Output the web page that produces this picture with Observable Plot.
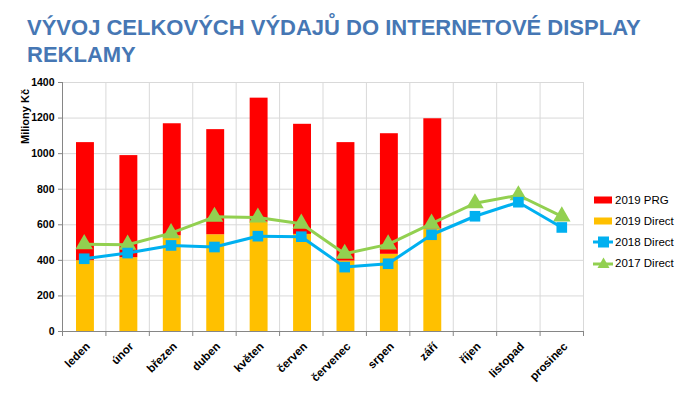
<!DOCTYPE html>
<html>
<head>
<meta charset="utf-8">
<script src="https://cdn.jsdelivr.net/npm/d3@7"></script>
<script src="https://cdn.jsdelivr.net/npm/@observablehq/plot@0.6"></script>
<style>
  html, body { margin: 0; padding: 0; background: #fff; }
  #wrap { position: relative; width: 700px; height: 395px; font-family: "Liberation Sans", Arial, sans-serif; }
  #title { position: absolute; left: 27px; top: 14px; font-size: 22px; font-weight: bold; color: #4677b4; line-height: 27px; width: 640px; }
  #legend { position: absolute; left: 593px; top: 189px; font-size: 11.5px; color: #000; }
  .row { height: 21px; display: flex; align-items: center; }
  .row svg { margin-right: 2px; }
  #chart { position: absolute; left: 0; top: 0; }
</style>
</head>
<body>
<div id="wrap">
  <div id="chart"></div>
  <div id="title">VÝVOJ CELKOVÝCH VÝDAJŮ DO INTERNETOVÉ DISPLAY REKLAMY</div>
  <div id="legend"></div>
</div>
<script>
const months = ["leden","únor","březen","duben","květen","červen","červenec","srpen","září","říjen","listopad","prosinec"];
const direct2019 = [398, 415, 538, 544, 615, 546, 396, 434, 576, null, null, null];
const prg2019   = [664, 574, 630, 591, 697, 619, 666, 678, 620, null, null, null];
const direct2018 = [409, 441, 484, 475, 536, 533, 362, 381, 544, 648, 727, 585];
const direct2017 = [491, 488, 553, 645, 641, 606, 437, 490, 606, 721, 766, 647];
const yTicks = [0, 200, 400, 600, 800, 1000, 1200, 1400];

const colors = {prg: "#ff0000", d19: "#ffc000", d18: "#00b0f0", d17: "#92d050"};

const bars = [];
months.forEach((m, i) => {
  if (direct2019[i] != null) bars.push({month: m, series: "2019 Direct", value: direct2019[i]});
  if (prg2019[i] != null) bars.push({month: m, series: "2019 PRG", value: prg2019[i]});
});
const l18 = months.map((m, i) => ({month: m, value: direct2018[i]}));
const l17 = months.map((m, i) => ({month: m, value: direct2017[i]}));

const W = 700, H = 395, mL = 62, mR = 117, mT = 82, mB = 64;
const step = (W - mL - mR) / months.length;

const chart = Plot.plot({
  width: W, height: H,
  marginLeft: mL, marginRight: mR, marginTop: mT, marginBottom: mB,
  style: {fontFamily: "'Liberation Sans', Arial, sans-serif", background: "transparent", overflow: "visible"},
  x: {type: "band", domain: months, padding: 0, round: false, axis: null},
  y: {domain: [0, 1400], axis: null},
  marks: [
    // horizontal grid
    Plot.ruleY(yTicks, {stroke: "#d9d9d9", strokeWidth: 1}),
    // vertical grid at band boundaries
    Plot.ruleX(months, {x: d => d, dx: -step / 2, y1: 0, y2: 1400, stroke: "#d9d9d9"}),
    Plot.ruleX([months[months.length - 1]], {x: d => d, dx: step / 2, y1: 0, y2: 1400, stroke: "#d9d9d9"}),
    // bars
    Plot.barY(bars, Plot.stackY({x: "month", y: "value", fill: d => d.series === "2019 PRG" ? colors.prg : colors.d19, order: ["2019 Direct", "2019 PRG"], z: "series", insetLeft: 14, insetRight: 11.5})),
    // axes lines
    Plot.ruleY([0], {stroke: "#868686"}),
    Plot.ruleX([months[0]], {x: d => d, dx: -step / 2, y1: 0, y2: 1400, stroke: "#868686"}),
    // x tick stubs
    Plot.ruleX(months, {x: d => d, dx: -step / 2, y1: 0, y2: 0, insetBottom: -5, stroke: "#868686"}),
    Plot.ruleX([months[months.length - 1]], {x: d => d, dx: step / 2, y1: 0, y2: 0, insetBottom: -5, stroke: "#868686"}),
    // y axis ticks & labels
    Plot.axisY(yTicks, {tickSize: 4, tickPadding: 4, tickFormat: d => String(d), stroke: "#868686", fill: "#000", fontWeight: "bold", fontSize: 10.5, label: null, strokeOpacity: 1}),
    // lines
    Plot.line(l17, {x: "month", y: "value", stroke: colors.d17, strokeWidth: 3}),
    Plot.dot(l17, {x: "month", y: "value", symbol: "triangle", r: 6.5, fill: colors.d17, stroke: null}),
    Plot.line(l18, {x: "month", y: "value", stroke: colors.d18, strokeWidth: 3}),
    Plot.dot(l18, {x: "month", y: "value", symbol: "square", r: 6, fill: colors.d18, stroke: null}),
    // x labels
    Plot.text(months, {x: d => d, y: 0, dy: 13, dx: 4, rotate: -45, textAnchor: "end", lineAnchor: "middle", text: d => d, fontWeight: "bold", fontSize: 11.5, fill: "#000"}),
    // y label
    Plot.text(["Miliony Kč"], {frameAnchor: "top-left", dx: -mL + 21, dy: -mT + 116, rotate: -90, text: d => d, fontWeight: "bold", fontSize: 11, fill: "#000", textAnchor: "middle"})
  ]
});
document.getElementById("chart").appendChild(chart);

// legend
const legendItems = [
  {label: "2019 PRG", type: "rect", color: colors.prg},
  {label: "2019 Direct", type: "rect", color: colors.d19},
  {label: "2018 Direct", type: "square", color: colors.d18},
  {label: "2017 Direct", type: "triangle", color: colors.d17}
];
const leg = document.getElementById("legend");
legendItems.forEach(it => {
  const row = document.createElement("div");
  row.className = "row";
  let sw;
  if (it.type === "rect") {
    sw = `<svg width="20" height="12"><rect x="1" y="2.5" width="18" height="7" fill="${it.color}"/></svg>`;
  } else if (it.type === "square") {
    sw = `<svg width="20" height="12"><line x1="0" x2="20" y1="6" y2="6" stroke="${it.color}" stroke-width="3"/><rect x="5" y="0.5" width="11" height="11" fill="${it.color}"/></svg>`;
  } else {
    sw = `<svg width="20" height="12"><line x1="0" x2="20" y1="7" y2="7" stroke="${it.color}" stroke-width="3"/><path d="M10.5,0.5 L16.5,11 L4.5,11 Z" fill="${it.color}"/></svg>`;
  }
  row.innerHTML = sw + `<span>${it.label}</span>`;
  leg.appendChild(row);
});
</script>
</body>
</html>
